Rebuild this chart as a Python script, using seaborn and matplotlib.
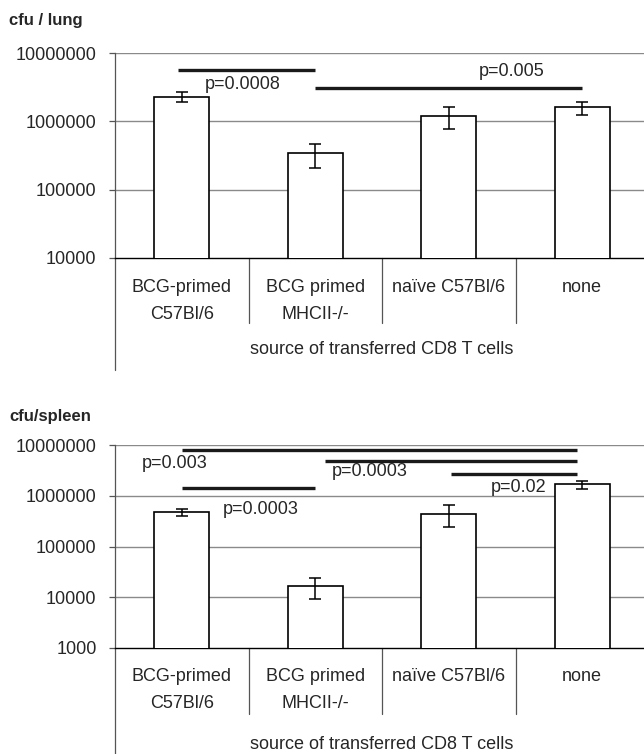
import numpy as np
import pandas as pd
import matplotlib
matplotlib.use("Agg")
import matplotlib.pyplot as plt
import seaborn as sns
from matplotlib.transforms import blended_transform_factory
from matplotlib.lines import Line2D

# ---------------- data ----------------
categories = ["BCG-primed\nC57Bl/6", "BCG primed\nMHCII-/-", "naïve C57Bl/6", "none"]

lung_mean = [2.3e6, 3.4e5, 1.2e6, 1.6e6]
lung_err = [0.38e6, 1.3e5, 0.42e6, 0.35e6]

spleen_mean = [4.8e5, 1.65e4, 4.5e5, 1.7e6]
spleen_err = [0.7e5, 0.75e4, 2.1e5, 0.3e6]

lung_ticks = [1e4, 1e5, 1e6, 1e7]
spleen_ticks = [1e3, 1e4, 1e5, 1e6, 1e7]

# significance bars: (x_start, x_end, y)
lung_sig_lines = [(-0.03, 1.0, 5.7e6), (1.0, 3.0, 3.1e6)]
lung_sig_text = [(0.46, 3.5e6, "p=0.0008"), (2.47, 5.3e6, "p=0.005")]
spleen_sig_lines = [(0.0, 2.96, 8.3e6), (1.07, 2.96, 5.0e6),
                    (2.02, 2.96, 2.7e6), (0.0, 1.0, 1.44e6)]
spleen_sig_text = [(-0.05, 4.4e6, "p=0.003"), (1.41, 3.1e6, "p=0.0003"),
                   (2.52, 1.48e6, "p=0.02"), (0.59, 5.35e5, "p=0.0003")]

# ---------------- style ----------------
sns.set_theme(style="white")
plt.rcParams["font.family"] = ["Liberation Sans", "DejaVu Sans"]
FS = 13
W, H = 644, 754
fig = plt.figure(figsize=(W / 100, H / 100), dpi=100)


def px_ax(left, top, right, bottom):
    return fig.add_axes([left / W, 1 - bottom / H, (right - left) / W, (bottom - top) / H])


ax1 = px_ax(115, 53, 649, 258)
ax2 = px_ax(115, 445.5, 649, 647.5)


def draw(ax, means, errs, ticks, sig_lines, sig_text, title, title_y, sep_px, axis_ext_px, xlabel_px):
    df = pd.DataFrame({"cat": categories, "cfu": means})
    ax.set_yscale("log")
    sns.barplot(data=df, x="cat", y="cfu", ax=ax, color="white", edgecolor="black",
                linewidth=1.2, width=0.41, errorbar=None, zorder=3, saturation=1)
    ax.errorbar(np.arange(len(means)), means, yerr=errs, fmt="none", ecolor="black",
                elinewidth=1.1, capsize=4, capthick=1.1, zorder=4)
    ax.set_ylim(ticks[0], ticks[-1])
    ax.set_xlim(-0.5, 3.5)
    ax.set_yticks(ticks)
    ax.set_yticklabels([f"{int(t)}" for t in ticks], fontsize=FS)
    ax.yaxis.set_minor_locator(matplotlib.ticker.NullLocator())
    ax.grid(False)
    for t in ticks[1:]:
        ax.axhline(t, color="#8a8a8a", lw=1.0, zorder=1)
    ax.set_xlabel("")
    ax.set_ylabel("")
    ax.tick_params(axis="y", direction="out", length=4.3, width=0.9, color="#555555", pad=9, left=True)
    ax.tick_params(axis="x", length=0, pad=15, labelsize=FS)
    for lab in ax.get_xticklabels():
        lab.set_linespacing(1.75)
        lab.set_va("top")
    for s in ["top", "right"]:
        ax.spines[s].set_visible(False)
    ax.spines["left"].set_color("#555555")
    ax.spines["left"].set_linewidth(0.9)
    ax.spines["bottom"].set_color("black")
    ax.spines["bottom"].set_linewidth(1.0)

    for x0, x1, y in sig_lines:
        ax.plot([x0, x1], [y, y], color="#1a1a1a", lw=2.4, solid_capstyle="butt", zorder=5, clip_on=False)
    for x, y, s in sig_text:
        ax.text(x, y, s, ha="center", va="center", fontsize=FS, zorder=6)

    # separators and y-axis extension below the plot
    ax_h_px = ax.get_position().height * H
    tr = blended_transform_factory(ax.transData, ax.transAxes)
    for xs in [0.5, 1.5, 2.5]:
        ax.add_line(Line2D([xs, xs], [0, -sep_px / ax_h_px], transform=tr, color="#555555",
                           lw=0.9, clip_on=False))
    ax.add_line(Line2D([0, 0], [0, -axis_ext_px / ax_h_px], transform=ax.transAxes,
                       color="#555555", lw=0.9, clip_on=False))
    ax.text(0.5, -xlabel_px / ax_h_px, "source of transferred CD8 T cells", transform=ax.transAxes,
            ha="center", va="center", fontsize=FS)
    fig.text(9 / W, 1 - title_y / H, title, ha="left", va="center", fontsize=12, fontweight="bold")


draw(ax1, lung_mean, lung_err, lung_ticks, lung_sig_lines, lung_sig_text,
     "cfu / lung", 20, 65, 112, 91)
draw(ax2, spleen_mean, spleen_err, spleen_ticks, spleen_sig_lines, spleen_sig_text,
     "cfu/spleen", 416, 66, 120, 97)

fig.savefig("out.png", dpi=100)
